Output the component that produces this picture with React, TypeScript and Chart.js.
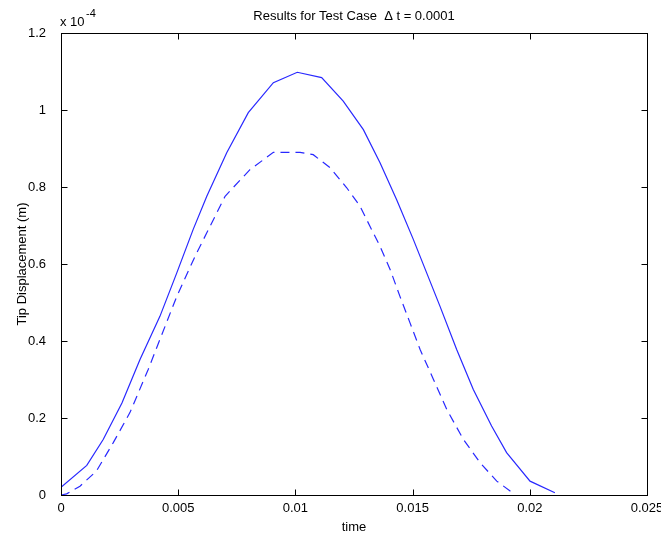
import React, { useEffect, useRef } from "react";
import { Chart, registerables } from "chart.js";

Chart.register(...registerables);

const solidTime = [0, 0.0011, 0.0018, 0.0026, 0.00337, 0.00422, 0.00494, 0.00564, 0.00622, 0.00707, 0.00799, 0.00906, 0.01008, 0.01112, 0.01204, 0.0129, 0.01361, 0.01432, 0.01503, 0.0156, 0.01617, 0.01688, 0.01759, 0.01837, 0.01901, 0.02001, 0.02107];
const solidDisp = [0.02, 0.077, 0.144, 0.239, 0.352, 0.464, 0.577, 0.69, 0.776, 0.889, 0.993, 1.071, 1.098, 1.084, 1.023, 0.949, 0.863, 0.767, 0.664, 0.577, 0.49, 0.378, 0.274, 0.179, 0.11, 0.036, 0.006];

const dashedTime = [0, 0.00024, 0.00081, 0.00151, 0.00223, 0.00294, 0.00372, 0.00422, 0.00494, 0.00572, 0.00622, 0.007, 0.00806, 0.00906, 0.0102, 0.01076, 0.01148, 0.01219, 0.01276, 0.01318, 0.01361, 0.01404, 0.01446, 0.01489, 0.01532, 0.01589, 0.01646, 0.01717, 0.01788, 0.01859, 0.01937];
const dashedDisp = [0, 0.003, 0.023, 0.062, 0.136, 0.214, 0.326, 0.404, 0.516, 0.62, 0.681, 0.776, 0.845, 0.89, 0.89, 0.884, 0.85, 0.798, 0.75, 0.698, 0.646, 0.586, 0.516, 0.447, 0.378, 0.3, 0.222, 0.144, 0.084, 0.036, 0.001];

const xTickValues = [0, 0.005, 0.01, 0.015, 0.02, 0.025];
const xTickLabels = ["0", "0.005", "0.01", "0.015", "0.02", "0.025"];
const yTickValues = [0, 0.2, 0.4, 0.6, 0.8, 1.0, 1.2];
const yTickLabels = ["0", "0.2", "0.4", "0.6", "0.8", "1", "1.2"];

const titleText = "Results for Test Case  \u0394 t = 0.0001";
const xLabel = "time";
const yLabel = "Tip Displacement (m)";
const FONT = "'Liberation Sans', Arial, sans-serif";

const boxPlugin = {
  id: "matlabBox",
  afterDraw(chart: any) {
    const { ctx, chartArea } = chart;
    const xs = chart.scales.x;
    const ys = chart.scales.y;
    const L = Math.floor(chartArea.left) + 0.5;
    const R = Math.floor(chartArea.right) + 0.5;
    const T = Math.floor(chartArea.top) + 0.5;
    const B = Math.floor(chartArea.bottom) + 0.5;
    ctx.save();
    ctx.strokeStyle = "#000";
    ctx.lineWidth = 1;
    ctx.strokeRect(L, T, R - L, B - T);
    const tl = 6;
    ctx.beginPath();
    xTickValues.forEach((v) => {
      const px = Math.round(xs.getPixelForValue(v)) + 0.5;
      ctx.moveTo(px, B);
      ctx.lineTo(px, B - tl);
      ctx.moveTo(px, T);
      ctx.lineTo(px, T + tl);
    });
    yTickValues.forEach((v) => {
      const py = Math.round(ys.getPixelForValue(v)) + 0.5;
      ctx.moveTo(L, py);
      ctx.lineTo(L + tl, py);
      ctx.moveTo(R, py);
      ctx.lineTo(R - tl, py);
    });
    ctx.stroke();

    ctx.fillStyle = "#000";
    ctx.font = `13px ${FONT}`;
    ctx.textAlign = "center";
    ctx.textBaseline = "middle";
    const cx = (chartArea.left + chartArea.right) / 2;
    ctx.fillText(titleText, cx, chartArea.top - 17);
    ctx.fillText(xLabel, cx, chartArea.bottom + 32);
    ctx.save();
    ctx.translate(chartArea.left - 39, (chartArea.top + chartArea.bottom) / 2);
    ctx.rotate(-Math.PI / 2);
    ctx.fillText(yLabel, 0, 0);
    ctx.restore();

    ctx.textAlign = "left";
    ctx.font = `13px ${FONT}`;
    ctx.fillText("x 10", chartArea.left - 1, chartArea.top - 11);
    ctx.font = `11px ${FONT}`;
    ctx.fillText("-4", chartArea.left + 25, chartArea.top - 19);
    ctx.restore();
  },
};

export default function App() {
  const ref = useRef<HTMLCanvasElement | null>(null);
  useEffect(() => {
    if (!ref.current) return;
    const chart = new Chart(ref.current, {
      type: "scatter",
      data: {
        datasets: [
          {
            data: solidTime.map((t, i) => ({ x: t, y: solidDisp[i] })),
            showLine: true,
            borderColor: "rgb(40,40,255)",
            borderWidth: 1.2,
            pointRadius: 0,
            tension: 0,
          },
          {
            data: dashedTime.map((t, i) => ({ x: t, y: dashedDisp[i] })),
            showLine: true,
            borderColor: "rgb(40,40,255)",
            borderWidth: 1.2,
            borderDash: [9, 6],
            pointRadius: 0,
            tension: 0,
          },
        ],
      },
      options: {
        animation: false,
        responsive: false,
        layout: { padding: { top: 33, right: 14, left: 0, bottom: 0 } },
        plugins: { legend: { display: false }, tooltip: { enabled: false }, title: { display: false } },
        scales: {
          x: {
            type: "linear",
            min: 0,
            max: 0.025,
            afterFit(scale: any) {
              scale.height = 40;
              scale.paddingLeft = 0;
              scale.paddingRight = 0;
            },
            afterBuildTicks(scale: any) {
              scale.ticks = xTickValues.map((v) => ({ value: v }));
            },
            ticks: {
              autoSkip: false,
              maxRotation: 0,
              padding: -2,
              color: "#000",
              font: { family: FONT, size: 13 },
              callback: (v: any) => {
                const i = xTickValues.findIndex((t) => Math.abs(t - v) < 1e-9);
                return i >= 0 ? xTickLabels[i] : "";
              },
            },
            grid: { display: false },
            border: { display: false },
          },
          y: {
            type: "linear",
            min: 0,
            max: 1.2,
            afterFit(scale: any) {
              scale.width = 61;
              scale.paddingTop = 0;
              scale.paddingBottom = 0;
            },
            afterBuildTicks(scale: any) {
              scale.ticks = yTickValues.map((v) => ({ value: v }));
            },
            ticks: {
              autoSkip: false,
              padding: 7,
              color: "#000",
              font: { family: FONT, size: 13 },
              callback: (v: any) => {
                const i = yTickValues.findIndex((t) => Math.abs(t - v) < 1e-9);
                return i >= 0 ? yTickLabels[i] : "";
              },
            },
            grid: { display: false },
            border: { display: false },
          },
        },
      },
      plugins: [boxPlugin],
    });
    return () => chart.destroy();
  }, []);
  return (
    <div style={{ position: "absolute", left: 0, top: 0, width: 661, height: 535, background: "#fff" }}>
      <canvas ref={ref} width={661} height={535} style={{ width: 661, height: 535 }} />
    </div>
  );
}
